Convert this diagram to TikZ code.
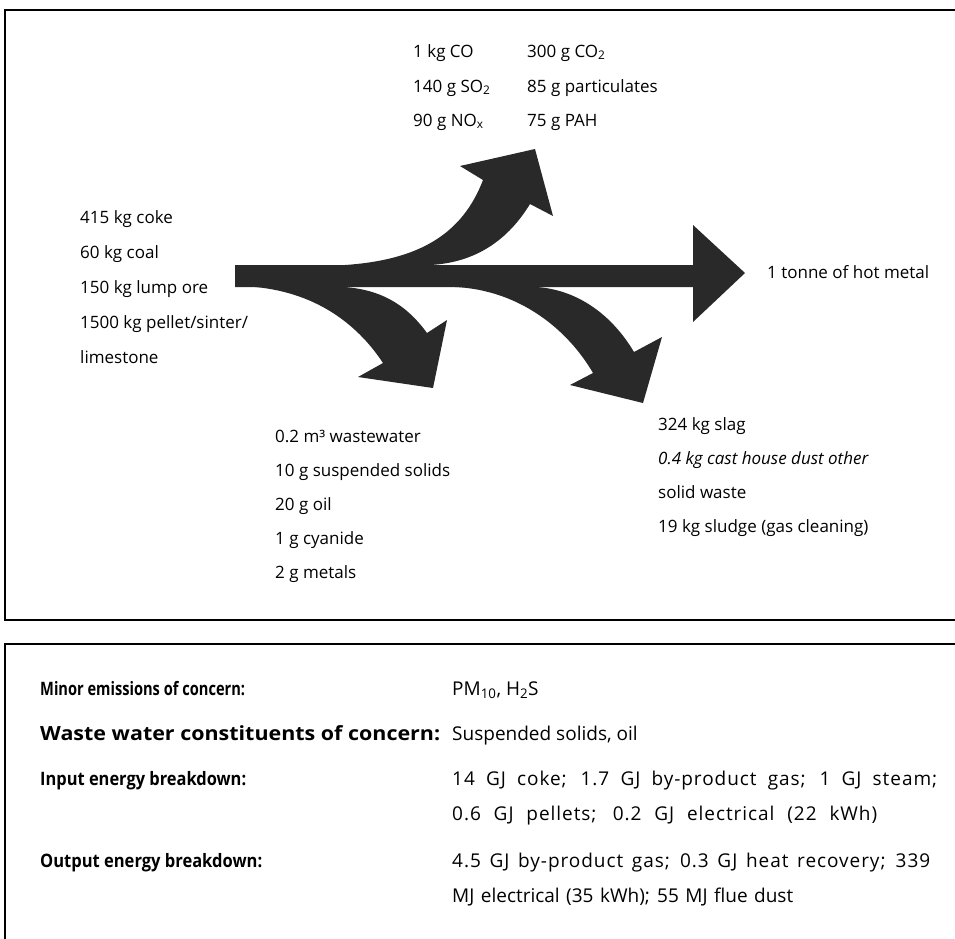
\documentclass[tikz,border=0pt]{standalone}
\usepackage{fontspec}
\setmainfont{Open Sans}
\newfontfamily\spacedfont{Open Sans}[LetterSpace=5]
\begin{document}
\begin{tikzpicture}[x=1pt,y=-1pt,
  lbl/.style={anchor=base west, inner sep=0pt, font=\fontsize{17}{20}\selectfont},
  blbl/.style={anchor=base west, inner sep=0pt, font=\fontsize{18.5}{22}\selectfont\bfseries},
  vlbl/.style={anchor=base west, inner sep=0pt, font=\fontsize{19}{22}\selectfont},
  flow/.style={fill=black!84, draw=none},
  frameline/.style={line width=1.2pt, line cap=rect}]
\useasboundingbox (0,0) rectangle (955,938);

% frames
\draw[frameline] (955,10) -- (5,10) -- (5,620) -- (955,620);
\draw[frameline] (955,644) -- (5,644) -- (5,938);

% flows
\fill[flow] (235,265) -- (693,265) -- (693,225) -- (745,273) -- (693,322) -- (693,287) -- (235,287) -- cycle;
\fill[flow] (345,265) .. controls (418,260) and (462,235) .. (483,180) -- (460,166) -- (535,149) -- (553,216) -- (530,204) .. controls (505,245) and (470,263) .. (430,265) -- cycle;
\fill[flow] (255,287) .. controls (320,293) and (360,328) .. (383,363) -- (358,377) -- (433,388) -- (447,320) -- (427,333) .. controls (405,303) and (380,290) .. (345,287) -- cycle;
\fill[flow] (455,287) .. controls (520,290) and (568,330) .. (593,373) -- (570,385) -- (643,403) -- (662,337) -- (634,352) .. controls (612,315) and (578,290) .. (537,287) -- cycle;

% top emissions
\node[lbl] (co)   at (413,57)  {1 kg CO};
\node[lbl] (so2)  at (413,92)  {140 g SO\textsubscript{2}};
\node[lbl] (nox)  at (413,126) {90 g NO\textsubscript{x}};
\node[lbl] (co2)  at (527,57)  {300 g CO\textsubscript{2}};
\node[lbl] (part) at (527,92)  {85 g particulates};
\node[lbl] (pah)  at (527,126) {75 g PAH};

% inputs
\node[lbl] (coke)  at (80,223) {415 kg coke};
\node[lbl] (coal)  at (80,258) {60 kg coal};
\node[lbl] (ore)   at (80,293) {150 kg lump ore};
\node[lbl] (pel)   at (80,328) {1500 kg pellet/sinter/};
\node[lbl] (lime)  at (80,363) {limestone};

% product
\node[lbl] (hot) at (767,278) {1 tonne of hot metal};

% wastewater
\node[lbl] (ww1) at (275,442) {0.2 m³ wastewater};
\node[lbl] (ww2) at (275,476) {10 g suspended solids};
\node[lbl] (ww3) at (275,510) {20 g oil};
\node[lbl] (ww4) at (275,544) {1 g cyanide};
\node[lbl] (ww5) at (275,578) {2 g metals};

% solid waste
\node[lbl] (sw1) at (658,430) {324 kg slag};
\node[lbl] (sw2) at (658,464) {\itshape 0.4 kg cast house dust other};
\node[lbl] (sw3) at (658,498) {solid waste};
\node[lbl] (sw4) at (658,532) {19 kg sludge (gas cleaning)};

% lower panel
\node[blbl] (l1) at (40,695) {\resizebox{205pt}{\height}{Minor emissions of concern:}};
\node[vlbl] (v1) at (452,695) {PM\textsubscript{10}, H\textsubscript{2}S};
\node[blbl] (l2) at (40,740) {\fontsize{19.5}{22}\selectfont\resizebox{400pt}{\height}{Waste water constituents of concern:}};
\node[vlbl] (v2) at (452,740) {Suspended solids, oil};
\node[blbl] (l3) at (40,785) {\resizebox{206pt}{\height}{Input energy breakdown:}};
\node[vlbl] (v3a) at (452,785) {\spacedfont\makebox[485pt][s]{14 GJ coke; 1.7 GJ by-product gas; 1 GJ steam;}};
\node[vlbl] (v3b) at (452,820) {\spacedfont\makebox[425pt][s]{0.6 GJ pellets; 0.2 GJ electrical (22 kWh)}};
\node[blbl] (l4) at (40,867) {\resizebox{222pt}{\height}{Output energy breakdown:}};
\node[vlbl] (v4a) at (452,867) {\spacedfont\makebox[478pt][s]{4.5 GJ by-product gas; 0.3 GJ heat recovery; 339}};
\node[vlbl] (v4b) at (452,902) {\makebox[341pt][s]{MJ electrical (35 kWh); 55 MJ flue dust}};
\end{tikzpicture}
\end{document}
